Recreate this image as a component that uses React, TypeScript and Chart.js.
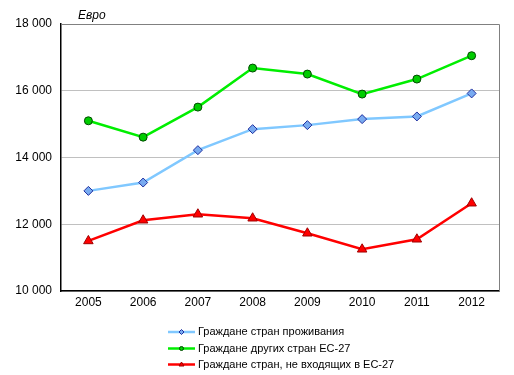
import React, { useEffect, useRef } from "react";
import { Chart, registerables } from "chart.js";

Chart.register(...registerables);

const categories = ["2005", "2006", "2007", "2008", "2009", "2010", "2011", "2012"];
const residents = [13000, 13250, 14220, 14850, 14970, 15150, 15230, 15920];
const otherEU = [15100, 14610, 15510, 16680, 16500, 15900, 16350, 17050];
const nonEU = [11500, 12120, 12300, 12180, 11730, 11250, 11550, 12630];
const seriesLabels = [
  "Граждане стран проживания",
  "Граждане других стран ЕС-27",
  "Граждане стран, не входящих в ЕС-27",
];
const unitLabel = "Евро";

const FONT = "Arial, 'Liberation Sans', sans-serif";

const styles = [
  { line: "#80c8ff", fill: "#78aaf0", border: "#2030a0", point: "rectRot", radius: 4.5, lr: 2.5 },
  { line: "#00ee00", fill: "#00cc00", border: "#004a00", point: "circle", radius: 4, lr: 2.5 },
  { line: "#ff0000", fill: "#ff0000", border: "#a00000", point: "triangle", radius: 5.5, lr: 2.5 },
];

const frame = {
  id: "frameAndLegend",
  afterDraw(chart: any) {
    const { ctx, chartArea } = chart;
    ctx.save();
    ctx.strokeStyle = "#808080";
    ctx.lineWidth = 1;
    ctx.beginPath();
    ctx.moveTo(Math.round(chartArea.left) + 0.5, Math.round(chartArea.top) + 0.5);
    ctx.lineTo(Math.round(chartArea.right) + 0.5, Math.round(chartArea.top) + 0.5);
    ctx.lineTo(Math.round(chartArea.right) + 0.5, Math.round(chartArea.bottom) + 0.5);
    ctx.stroke();

    ctx.font = "italic 12px " + FONT;
    ctx.fillStyle = "#000";
    ctx.textBaseline = "alphabetic";
    ctx.textAlign = "left";
    ctx.fillText(unitLabel, 78, 19);

    const rows = [332, 348.5, 364.5];
    chart.data.datasets.forEach((ds: any, i: number) => {
      const y = rows[i];
      const st = styles[i];
      ctx.strokeStyle = st.line;
      ctx.lineWidth = 2.5;
      ctx.beginPath();
      ctx.moveTo(168, y);
      ctx.lineTo(195, y);
      ctx.stroke();
      ctx.fillStyle = st.fill;
      ctx.strokeStyle = st.border;
      ctx.lineWidth = 1;
      ctx.beginPath();
      const cx = 181.5;
      if (st.point === "rectRot") {
        ctx.moveTo(cx, y - 2.5);
        ctx.lineTo(cx + 2.5, y);
        ctx.lineTo(cx, y + 2.5);
        ctx.lineTo(cx - 2.5, y);
        ctx.closePath();
      } else if (st.point === "circle") {
        ctx.arc(cx, y, 2, 0, Math.PI * 2);
      } else {
        ctx.moveTo(cx, y - 2.5);
        ctx.lineTo(cx + 2.5, y + 1.5);
        ctx.lineTo(cx - 2.5, y + 1.5);
        ctx.closePath();
      }
      ctx.fill();
      ctx.stroke();
      ctx.font = "11px " + FONT;
      ctx.fillStyle = "#000";
      ctx.textBaseline = "middle";
      ctx.fillText(ds.label, 198, y);
    });
    ctx.restore();
  },
};

export default function App() {
  const ref = useRef<HTMLCanvasElement>(null);
  useEffect(() => {
    if (!ref.current) return;
    const data = [residents, otherEU, nonEU];
    const chart = new Chart(ref.current, {
      type: "line",
      data: {
        labels: categories,
        datasets: data.map((d, i) => ({
          label: seriesLabels[i],
          data: d,
          borderColor: styles[i].line,
          borderWidth: styles[i].lr,
          backgroundColor: styles[i].fill,
          pointBackgroundColor: styles[i].fill,
          pointBorderColor: styles[i].border,
          pointBorderWidth: 1,
          pointStyle: styles[i].point as any,
          pointRadius: styles[i].radius,
          tension: 0,
          fill: false,
        })),
      },
      options: {
        animation: false,
        responsive: false,
        maintainAspectRatio: false,
        layout: { padding: { top: 24, right: 15, left: 0, bottom: 0 } },
        plugins: {
          legend: { display: false },
          tooltip: { enabled: false },
          title: { display: false },
        },
        scales: {
          x: {
            offset: true,
            grid: { display: false, drawTicks: false },
            border: { color: "#000", width: 1.5 },
            ticks: { color: "#000", font: { family: FONT, size: 12 }, padding: 4, maxRotation: 0 },
            afterFit(scale: any) {
              scale.height = 84;
            },
          },
          y: {
            min: 10000,
            max: 18000,
            grid: { color: "#c0c0c0", drawTicks: false },
            border: { color: "#000", width: 1.5 },
            ticks: {
              stepSize: 2000,
              color: "#000",
              padding: 9,
              font: { family: FONT, size: 12 },
              callback: (v: any) => String(v).replace(/\B(?=(\d{3})+(?!\d))/g, " "),
            },
            afterFit(scale: any) {
              scale.width = 61;
            },
          },
        },
      },
      plugins: [frame],
    });
    return () => chart.destroy();
  }, []);
  return (
    <div style={{ position: "fixed", left: 0, top: 0, width: 514, height: 375, background: "#fff" }}>
      <canvas ref={ref} width={514} height={375} style={{ width: 514, height: 375 }} />
    </div>
  );
}
